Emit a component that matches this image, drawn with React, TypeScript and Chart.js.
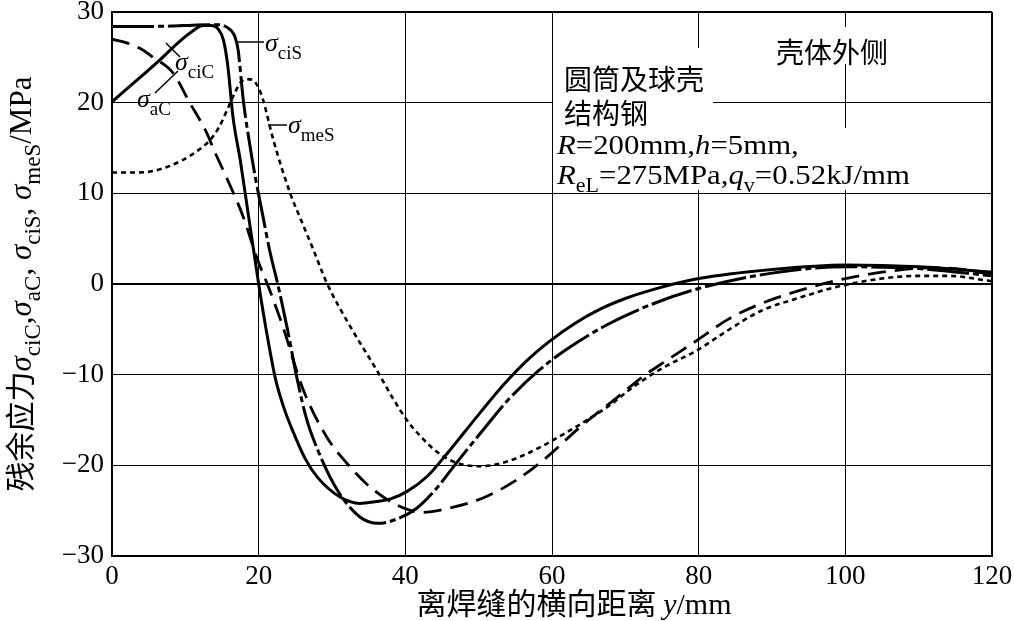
import { useEffect, useRef } from "react";
import { Chart, registerables } from "chart.js";

Chart.register(...registerables);

// ---------- data ----------
const xTickValues = [0, 20, 40, 60, 80, 100, 120];
const yTickValues = [-30, -20, -10, 0, 10, 20, 30];

const ciC_x = [0, 3, 6.5, 9, 11, 12.4, 13.5, 14.5, 15.2, 15.8, 16.5, 17.5, 18.6, 20.0, 21.1, 22.3, 23.5, 24.7, 26.3, 28, 31.1, 33.8, 36, 38, 40.2, 43, 46.1, 49.8, 53.3, 56.5, 59.7, 63, 66.5, 70, 73.4, 80, 90, 100, 110, 120];
const ciC_y = [20.1, 22.2, 24.7, 26.6, 27.9, 28.5, 28.5, 28.1, 26.9, 24.0, 18.4, 13.6, 7.6, 0.0, -5.4, -10.5, -13.8, -16.3, -19.2, -21.3, -23.5, -24.2, -24.0, -23.7, -22.9, -21.2, -18.3, -14.6, -11.2, -8.5, -6.3, -4.4, -2.8, -1.6, -0.7, 0.6, 1.6, 2.1, 1.9, 1.3];

const aC_x = [0, 2, 4.2, 5.6, 8.3, 10.6, 12.9, 14, 15.7, 17.9, 19.7, 21.5, 23.3, 26, 29.3, 32.5, 35.2, 38.9, 42.4, 46.1, 50.6, 55.2, 59.3, 63.8, 68.9, 72.4, 75.7, 79.8, 84, 88.4, 93.8, 98.9, 105, 112, 116, 120];
const aC_y = [27.0, 26.6, 25.8, 25.0, 23.3, 20.0, 16.7, 14.6, 11.6, 7.4, 3.0, -0.66, -4.7, -11.5, -16.9, -20.2, -22.4, -24.4, -25.2, -24.7, -23.6, -21.6, -19.1, -15.8, -12.5, -10.2, -8.4, -6.2, -3.9, -2.2, -0.7, 0.4, 1.3, 1.8, 1.6, 1.0];

const ciS_x = [0, 4, 8, 11, 13, 14.5, 15.7, 16.8, 17.2, 17.9, 18.9, 19.7, 20.6, 21.5, 22.6, 23.9, 25.2, 26.5, 28, 30.7, 33.8, 36.3, 38.9, 41.6, 44.3, 47, 50.6, 54, 58.4, 62, 67.5, 73.4, 80, 90, 100, 110, 120];
const ciS_y = [28.4, 28.4, 28.45, 28.55, 28.6, 28.6, 28.3, 27.2, 25.8, 20.3, 14.8, 11.1, 7.4, 3.7, 0.0, -4.9, -10.3, -14.8, -18.2, -22.7, -25.7, -26.4, -25.9, -24.7, -22.5, -19.7, -16.1, -12.8, -9.4, -7.2, -4.5, -2.3, -0.5, 1.2, 1.9, 1.7, 0.9];

const meS_x = [0, 3, 5.2, 7.5, 9.7, 11.5, 13.4, 14.6, 15.7, 16.7, 17.5, 18.4, 19.2, 20.0, 20.6, 22, 24.3, 25.6, 27.5, 29.3, 32.5, 36.1, 38.3, 40.2, 42.3, 44.3, 46.3, 48.4, 50.5, 52.9, 55.5, 58.4, 61.5, 64.8, 68, 71, 75, 79.8, 84, 88.4, 93.8, 98.9, 105, 110, 114, 120];
const meS_y = [12.3, 12.3, 12.4, 12.9, 13.7, 14.6, 15.9, 17.3, 19.2, 21.0, 22.2, 22.6, 22.5, 21.6, 20.3, 15.9, 10.0, 7.4, 3.7, 0.1, -4.7, -9.5, -12.6, -15.0, -17.0, -18.5, -19.5, -20.0, -20.1, -19.8, -19.1, -18.0, -16.6, -15.0, -13.3, -11.4, -9.3, -7.3, -5.1, -3.0, -1.5, -0.3, 0.6, 0.9, 0.9, 0.3];

const xTitle = "离焊缝的横向距离 ";
const annotCJK1 = "圆筒及球壳";
const annotCJK2 = "结构钢";
const annotSide = "壳体外侧";

// ---------- helpers ----------
const SERIF = '"Liberation Serif", "Times New Roman", serif';
const CJK = '"Noto Sans CJK SC", sans-serif';

type Seg = { t: string; it?: boolean; sub?: boolean; cjk?: boolean; size?: number };

function segFont(s: Seg, size: number, subSize: number) {
  const sz = s.size ?? (s.sub ? subSize : size);
  return `${s.it ? "italic " : ""}${sz}px ${s.cjk ? CJK : SERIF}`;
}

function measureRich(ctx: CanvasRenderingContext2D, segs: Seg[], size: number, subSize: number) {
  let w = 0;
  for (const s of segs) {
    ctx.font = segFont(s, size, subSize);
    w += ctx.measureText(s.t).width;
  }
  return w;
}

function drawRich(ctx: CanvasRenderingContext2D, segs: Seg[], x: number, y: number, size: number, subSize: number, sx = 1) {
  ctx.save();
  ctx.translate(x, y);
  ctx.scale(sx, 1);
  ctx.textBaseline = "alphabetic";
  ctx.textAlign = "left";
  ctx.fillStyle = "#000";
  let cx = 0;
  for (const s of segs) {
    ctx.font = segFont(s, size, subSize);
    ctx.fillText(s.t, cx, s.sub ? size * 0.3 : 0);
    cx += ctx.measureText(s.t).width;
  }
  ctx.restore();
}

function line(ctx: CanvasRenderingContext2D, x1: number, y1: number, x2: number, y2: number) {
  ctx.beginPath();
  ctx.moveTo(x1, y1);
  ctx.lineTo(x2, y2);
  ctx.stroke();
}

const textPlugin = {
  id: "textPlugin",
  afterDraw(chart: any) {
    const ctx: CanvasRenderingContext2D = chart.ctx;
    ctx.save();

    // white boxes hiding grid lines behind annotations
    ctx.fillStyle = "#fff";
    ctx.fillRect(553, 48, 160, 80);
    ctx.fillRect(553, 128, 360, 62);
    ctx.fillRect(768, 27, 128, 37);

    // annotations
    drawRich(ctx, [{ t: annotSide, cjk: true }], 776, 63, 28, 20);
    drawRich(ctx, [{ t: annotCJK1, cjk: true }], 564, 90, 28, 20);
    drawRich(ctx, [{ t: annotCJK2, cjk: true }], 564, 124, 28, 20);
    drawRich(ctx, [
      { t: "R", it: true }, { t: "=200mm," }, { t: "h", it: true }, { t: "=5mm," },
    ], 557, 154, 28, 20, 1.1);
    drawRich(ctx, [
      { t: "R", it: true }, { t: "eL", sub: true }, { t: "=275MPa," },
      { t: "q", it: true }, { t: "v", sub: true }, { t: "=0.52kJ/mm" },
    ], 557, 184, 28, 20, 1.1);

    // curve labels
    ctx.strokeStyle = "#000";
    ctx.lineWidth = 1.5;
    drawRich(ctx, [{ t: "σ", it: true }, { t: "ciS", sub: true }], 265, 51, 26, 19);
    line(ctx, 238, 42, 264, 42);
    drawRich(ctx, [{ t: "σ", it: true }, { t: "ciC", sub: true }], 175, 70, 26, 19);
    line(ctx, 166, 43, 180, 57);
    drawRich(ctx, [{ t: "σ", it: true }, { t: "aC", sub: true }], 137, 107, 26, 19);
    line(ctx, 155, 93, 178, 71);
    drawRich(ctx, [{ t: "σ", it: true }, { t: "meS", sub: true }], 288, 133, 26, 19);
    line(ctx, 268, 125, 287, 125);

    // x-axis title
    const xt: Seg[] = [{ t: xTitle, cjk: true }, { t: "y", it: true }, { t: "/mm" }];
    const xw = measureRich(ctx, xt, 30, 22);
    drawRich(ctx, xt, 574 - xw / 2, 614, 30, 22);

    // y-axis title (rotated)
    const yt: Seg[] = [
      { t: "残余应力", cjk: true, size: 30 },
      { t: "σ", it: true }, { t: "ciC", sub: true }, { t: "," },
      { t: "σ", it: true }, { t: "aC", sub: true }, { t: ", " },
      { t: "σ", it: true }, { t: "ciS", sub: true }, { t: ", " },
      { t: "σ", it: true }, { t: "meS", sub: true }, { t: "/MPa" },
    ];
    const yw = measureRich(ctx, yt, 31, 23);
    ctx.save();
    ctx.translate(22, 284);
    ctx.rotate(-Math.PI / 2);
    drawRich(ctx, yt, -yw / 2, 9, 31, 23);
    ctx.restore();

    ctx.restore();
  },
};

function pts(xs: number[], ys: number[]) {
  return xs.map((x, i) => ({ x, y: ys[i] }));
}

export default function App() {
  const ref = useRef<HTMLCanvasElement | null>(null);

  useEffect(() => {
    if (!ref.current) return;
    const common = {
      pointRadius: 0,
      borderColor: "#000",
      fill: false,
      cubicInterpolationMode: "monotone" as const,
    };
    const chart = new Chart(ref.current, {
      type: "line",
      data: {
        datasets: [
          { ...common, label: "σmeS", data: pts(meS_x, meS_y), borderWidth: 2.6, borderDash: [5, 4] },
          { ...common, label: "σaC", data: pts(aC_x, aC_y), borderWidth: 2.8, borderDash: [18, 9] },
          { ...common, label: "σciS", data: pts(ciS_x, ciS_y), borderWidth: 3, borderDash: [42, 4, 6, 4] },
          { ...common, label: "σciC", data: pts(ciC_x, ciC_y), borderWidth: 3 },
        ],
      },
      options: {
        animation: false,
        responsive: false,
        devicePixelRatio: 1,
        layout: { padding: { top: 12, right: 22, left: 0, bottom: 0 } },
        plugins: { legend: { display: false }, tooltip: { enabled: false } },
        scales: {
          x: {
            type: "linear",
            min: 0,
            max: 120,
            afterBuildTicks: (s: any) => {
              s.ticks = xTickValues.map((v) => ({ value: v }));
            },
            afterFit: (s: any) => {
              s.height = 65;
              s.paddingLeft = 0;
              s.paddingRight = 0;
            },
            ticks: {
              color: "#000",
              padding: 5,
              maxRotation: 0,
              autoSkip: false,
              font: { family: SERIF, size: 27 },
            },
            grid: {
              color: "#000",
              drawTicks: false,
              lineWidth: (c: any) => (c.tick && (c.tick.value === 0 || c.tick.value === 120) ? 2 : 1),
            },
            border: { display: true, color: "#000", width: 2 },
          },
          y: {
            type: "linear",
            min: -30,
            max: 30,
            afterBuildTicks: (s: any) => {
              s.ticks = yTickValues.map((v) => ({ value: v }));
            },
            afterFit: (s: any) => {
              s.width = 112;
              s.paddingTop = 0;
              s.paddingBottom = 0;
            },
            ticks: {
              color: "#000",
              padding: 8,
              autoSkip: false,
              font: { family: SERIF, size: 27 },
              callback: (v: any) => (Number(v) < 0 ? "\u2212" + Math.abs(Number(v)) : String(v)),
            },
            grid: {
              color: "#000",
              drawTicks: false,
              lineWidth: (c: any) =>
                c.tick && (c.tick.value === 0 || c.tick.value === 30 || c.tick.value === -30) ? 2 : 1,
            },
            border: { display: true, color: "#000", width: 2 },
          },
        },
      },
      plugins: [textPlugin],
    });
    return () => chart.destroy();
  }, []);

  return (
    <div style={{ position: "fixed", left: 0, top: 0, width: 1014, height: 621, background: "#fff" }}>
      <canvas ref={ref} width={1014} height={621} />
    </div>
  );
}
